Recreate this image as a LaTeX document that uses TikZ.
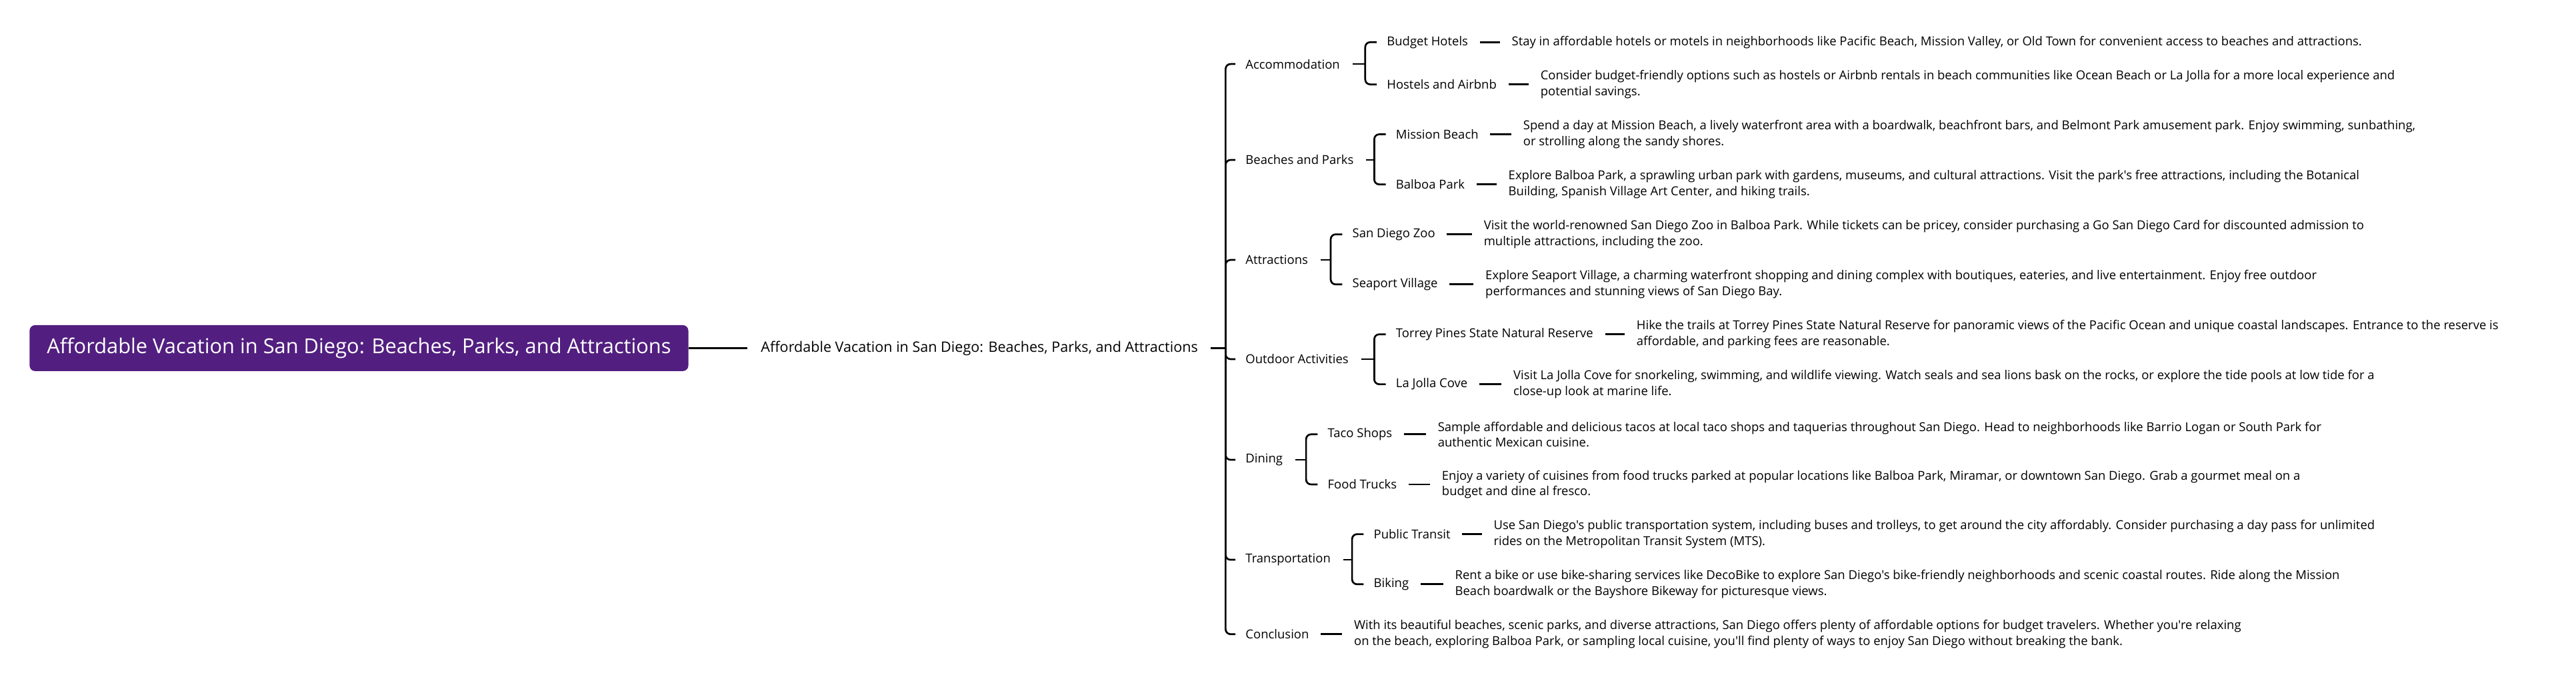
\documentclass[tikz,border=0pt]{standalone}
\usepackage{fontspec}
\setmainfont{Open Sans}[Ligatures=TeXOff]
\definecolor{rootpurple}{HTML}{521F80}

\begin{document}
\begin{tikzpicture}[x=1pt,y=-1pt,
  rootbox/.style={fill=rootpurple,rounded corners=3.4pt,text=white,inner sep=0pt,
    minimum width=401pt,minimum height=28pt,font=\fontsize{12.5}{14}\selectfont},
  maintopic/.style={anchor=west,inner sep=0pt,font=\fontsize{8.75}{10}\selectfont},
  topic/.style={anchor=west,inner sep=0pt,font=\fontsize{7.5}{9.5}\selectfont},
  note/.style={anchor=west,inner sep=0pt,align=left,font=\fontsize{7.5}{9.5}\selectfont},
  link/.style={line width=1.1pt,shorten <=7pt,shorten >=7pt},
  stem/.style={line width=1.1pt,shorten <=7.5pt},
  branch/.style={line width=1.1pt,rounded corners=3pt,shorten >=6pt}]
\useasboundingbox (0,0) rectangle (1568,422);

\node[rootbox] (root) at (218.5,212) {Affordable Vacation in San Diego: Beaches, Parks, and Attractions};
\node[maintopic] (main) at (463,212) {Affordable Vacation in San Diego: Beaches, Parks, and Attractions};
\coordinate (main-br) at (746,212);
\draw[line width=1.1pt,shorten >=8pt] (root.east) -- (main.west);
\draw[stem] (main.east) -- (main-br);

% second level
\node[topic] (acc) at (758,39) {Accommodation};
\node[topic] (bea) at (758,97.4) {Beaches and Parks};
\node[topic] (att) at (758,158.3) {Attractions};
\node[topic] (out) at (758,218.7) {Outdoor Activities};
\node[topic] (din) at (758,280) {Dining};
\node[topic] (tra) at (758,340.9) {Transportation};
\node[topic] (con) at (758,386.2) {Conclusion};
\foreach \n in {acc,bea,att,out,din,tra,con}
  \draw[branch] (main-br) |- (\n.west);

\coordinate (acc-br) at (831,39);
\coordinate (bea-br) at (836.5,97.4);
\coordinate (att-br) at (810,158.3);
\coordinate (out-br) at (836.5,218.7);
\coordinate (din-br) at (795,280);
\coordinate (tra-br) at (823,340.9);

% third level
\node[topic] (bh) at (844,25.7) {Budget Hotels};
\node[topic] (ha) at (844,51.4) {Hostels and Airbnb};
\node[topic] (mb) at (849.5,81.8) {Mission Beach};
\node[topic] (bp) at (849.5,112.3) {Balboa Park};
\node[topic] (zoo) at (823,142.7) {San Diego Zoo};
\node[topic] (sv) at (823,173.2) {Seaport Village};
\node[topic] (tp) at (849.5,203.6) {Torrey Pines State Natural Reserve};
\node[topic] (lj) at (849.5,234) {La Jolla Cove};
\node[topic] (ts) at (808,264.5) {Taco Shops};
\node[topic] (ft) at (808,295) {Food Trucks};
\node[topic] (pt) at (836,325.3) {Public Transit};
\node[topic] (bk) at (836,355.8) {Biking};

\foreach \p in {acc,bea,att,out,din,tra}
  \draw[stem] (\p.east) -- (\p-br);
\foreach \p/\c in {acc/bh,acc/ha,bea/mb,bea/bp,att/zoo,att/sv,out/tp,out/lj,din/ts,din/ft,tra/pt,tra/bk}
  \draw[branch] (\p-br) |- (\c.west);

% notes
\node[note] (bh-n) at (920,25.7) {Stay in affordable hotels or motels in neighborhoods like Pacific Beach, Mission Valley, or Old Town for convenient access to beaches and attractions.};
\node[note] (ha-n) at (937.5,51.4) {Consider budget-friendly options such as hostels or Airbnb rentals in beach communities like Ocean Beach or La Jolla for a more local experience and\\potential savings.};
\node[note] (mb-n) at (927,81.8) {Spend a day at Mission Beach, a lively waterfront area with a boardwalk, beachfront bars, and Belmont Park amusement park. Enjoy swimming, sunbathing,\\or strolling along the sandy shores.};
\node[note] (bp-n) at (918,112.3) {Explore Balboa Park, a sprawling urban park with gardens, museums, and cultural attractions. Visit the park's free attractions, including the Botanical\\Building, Spanish Village Art Center, and hiking trails.};
\node[note] (zoo-n) at (903,142.7) {Visit the world-renowned San Diego Zoo in Balboa Park. While tickets can be pricey, consider purchasing a Go San Diego Card for discounted admission to\\multiple attractions, including the zoo.};
\node[note] (sv-n) at (904,173.2) {Explore Seaport Village, a charming waterfront shopping and dining complex with boutiques, eateries, and live entertainment. Enjoy free outdoor\\performances and stunning views of San Diego Bay.};
\node[note] (tp-n) at (996,203.6) {Hike the trails at Torrey Pines State Natural Reserve for panoramic views of the Pacific Ocean and unique coastal landscapes. Entrance to the reserve is\\affordable, and parking fees are reasonable.};
\node[note] (lj-n) at (921,234) {Visit La Jolla Cove for snorkeling, swimming, and wildlife viewing. Watch seals and sea lions bask on the rocks, or explore the tide pools at low tide for a\\close-up look at marine life.};
\node[note] (ts-n) at (875,264.5) {Sample affordable and delicious tacos at local taco shops and taquerias throughout San Diego. Head to neighborhoods like Barrio Logan or South Park for\\authentic Mexican cuisine.};
\node[note] (ft-n) at (877.5,295) {Enjoy a variety of cuisines from food trucks parked at popular locations like Balboa Park, Miramar, or downtown San Diego. Grab a gourmet meal on a\\budget and dine al fresco.};
\node[note] (pt-n) at (909,325.3) {Use San Diego's public transportation system, including buses and trolleys, to get around the city affordably. Consider purchasing a day pass for unlimited\\rides on the Metropolitan Transit System (MTS).};
\node[note] (bk-n) at (885.5,355.8) {Rent a bike or use bike-sharing services like DecoBike to explore San Diego's bike-friendly neighborhoods and scenic coastal routes. Ride along the Mission\\Beach boardwalk or the Bayshore Bikeway for picturesque views.};
\node[note] (con-n) at (824,386.2) {With its beautiful beaches, scenic parks, and diverse attractions, San Diego offers plenty of affordable options for budget travelers. Whether you're relaxing\\on the beach, exploring Balboa Park, or sampling local cuisine, you'll find plenty of ways to enjoy San Diego without breaking the bank.};

\foreach \a in {bh,ha,mb,bp,zoo,sv,tp,lj,ts,ft,pt,bk,con}
  \draw[link] (\a.east) -- (\a-n.west);
\end{tikzpicture}
\end{document}
